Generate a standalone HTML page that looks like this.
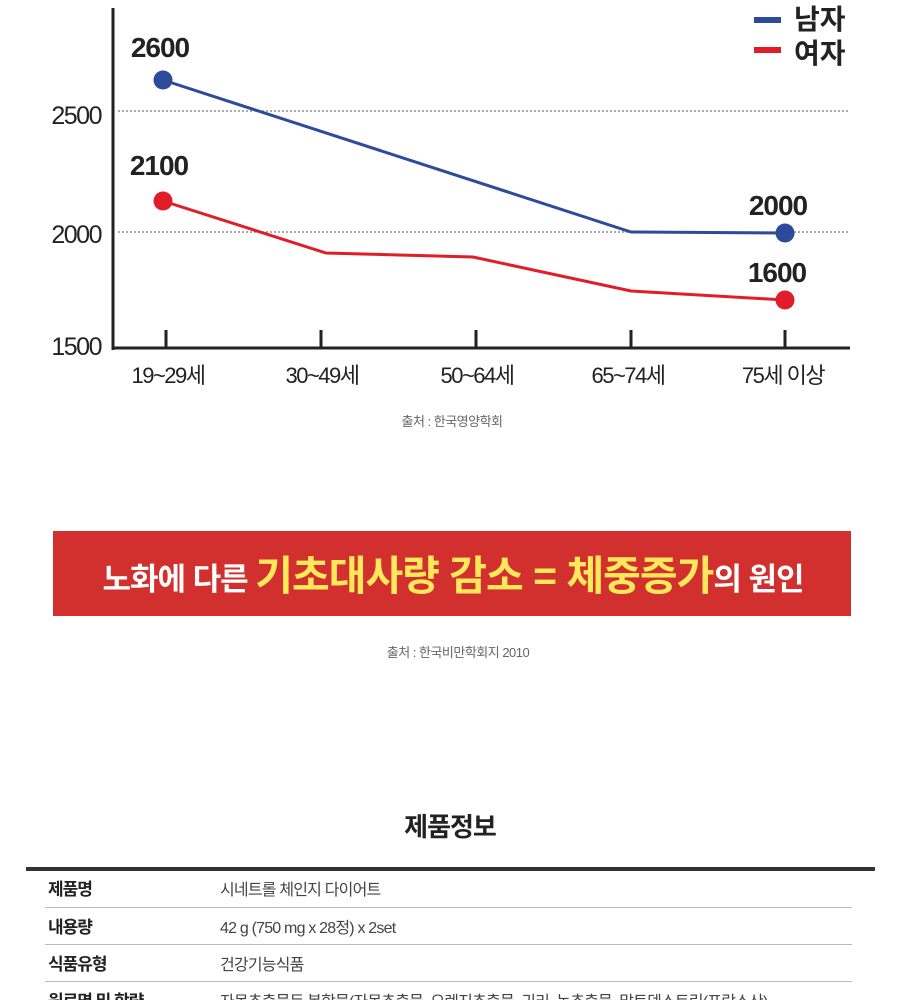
<!DOCTYPE html>
<html><head><meta charset="utf-8"><style>
body{margin:0;width:900px;height:1000px;overflow:hidden;background:#fff;font-family:"Liberation Sans","Noto Sans CJK KR",sans-serif;}
svg{position:absolute;left:0;top:0}
</style></head><body>
<svg width="900" height="1000" viewBox="0 0 900 1000" font-family="Liberation Sans, Noto Sans CJK KR, sans-serif">
<line x1="118" y1="111" x2="848" y2="111" stroke="#777" stroke-width="1.2" stroke-dasharray="2,2"/>
<line x1="118" y1="232" x2="848" y2="232" stroke="#777" stroke-width="1.2" stroke-dasharray="2,2"/>
<line x1="113" y1="8" x2="113" y2="350" stroke="#222" stroke-width="3"/>
<line x1="112" y1="348" x2="850" y2="348" stroke="#222" stroke-width="3"/>
<g stroke="#222" stroke-width="3">
<line x1="166" y1="330" x2="166" y2="348"/><line x1="321" y1="330" x2="321" y2="348"/><line x1="476" y1="330" x2="476" y2="348"/><line x1="631" y1="330" x2="631" y2="348"/><line x1="785" y1="330" x2="785" y2="348"/>
</g>
<g font-size="25" fill="#222" text-anchor="end" letter-spacing="-1.5">
<text x="101" y="124">2500</text><text x="101" y="243">2000</text><text x="101" y="355">1500</text>
</g>
<g font-size="22" fill="#222" text-anchor="middle" letter-spacing="-1.5">
<text x="168" y="383">19~29세</text><text x="322" y="383">30~49세</text><text x="477" y="383">50~64세</text><text x="628" y="383">65~74세</text><text x="783" y="383">75세 이상</text>
</g>
<polyline points="163,80 631,232 785,233" fill="none" stroke="#2e4a9b" stroke-width="3"/>
<polyline points="163,201 326,253 473,257 631,291 785,300" fill="none" stroke="#e11d2a" stroke-width="3"/>
<circle cx="163" cy="80" r="9.5" fill="#2e4a9b"/><circle cx="785" cy="233" r="9.5" fill="#2e4a9b"/>
<circle cx="163" cy="201" r="9.5" fill="#e11d2a"/><circle cx="785" cy="300" r="9.5" fill="#e11d2a"/>
<g font-size="28" font-weight="bold" fill="#222" text-anchor="middle" letter-spacing="-1">
<text x="160" y="57">2600</text><text x="159" y="175">2100</text><text x="778" y="215">2000</text><text x="777" y="282">1600</text>
</g>
<rect x="754" y="17" width="27" height="6" fill="#2e4a9b"/><rect x="754" y="47" width="27" height="6" fill="#e11d2a"/>
<g font-size="28" font-weight="bold" fill="#222"><text x="794" y="29">남자</text><text x="794" y="63">여자</text></g>
<text x="452" y="426" font-size="13" fill="#666" text-anchor="middle" letter-spacing="-0.5">출처 : 한국영양학회</text>
<rect x="53" y="531" width="798" height="85" fill="#d22f2f"/>
<text x="453" y="590" font-size="32" font-weight="bold" fill="#fff" text-anchor="middle" letter-spacing="-1"><tspan font-size="31">노화에 다른 </tspan><tspan fill="#ffe95a" font-size="41">기초대사량 감소 = 체중증가</tspan><tspan font-size="31">의 원인</tspan></text>
<text x="458" y="657" font-size="13" fill="#666" text-anchor="middle" letter-spacing="-0.5">출처 : 한국비만학회지 2010</text>
<text x="450" y="836" font-size="26" font-weight="bold" fill="#222" text-anchor="middle" letter-spacing="-1">제품정보</text>
<rect x="26" y="867" width="849" height="4" fill="#333"/>
<g stroke="#bbb" stroke-width="1"><line x1="45" y1="907.5" x2="852" y2="907.5"/><line x1="45" y1="944.5" x2="852" y2="944.5"/><line x1="45" y1="981.5" x2="852" y2="981.5"/></g>
<g font-size="17" font-weight="bold" fill="#222" letter-spacing="-1">
<text x="48" y="895">제품명</text><text x="48" y="933">내용량</text><text x="48" y="970">식품유형</text><text x="48" y="1007">원료명 및 함량</text>
</g>
<g font-size="16" fill="#444" letter-spacing="-0.8">
<text x="220" y="895">시네트롤 체인지 다이어트</text><text x="220" y="933">42 g (750 mg x 28정) x 2set</text><text x="220" y="970">건강기능식품</text><text x="220" y="1007">자몽추출물등 복합물(자몽추출물, 오렌지추출물, 귀리, 녹추출물, 말토덱스트린(프랑스산)</text>
</g>
</svg>
</body></html>
